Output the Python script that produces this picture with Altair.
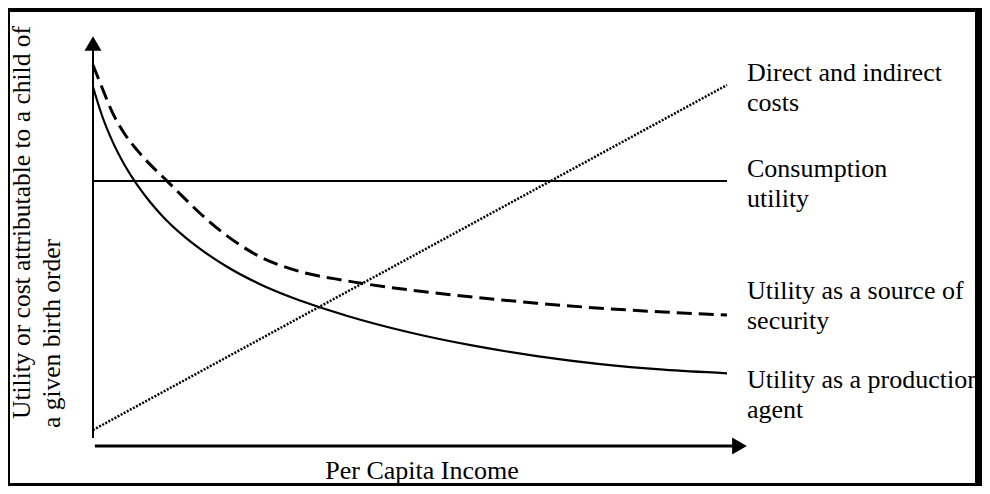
import altair as alt
import pandas as pd

# ---------------- data (conceptual units) ----------------
income = [0, 1.5, 3, 5, 7, 9, 11, 14, 17, 21, 26, 32, 40, 50, 60, 70, 80, 90, 100]
production_utility = [89.75, 82.25, 76.4, 70.2, 65.2, 61.0, 57.4, 52.9, 49.15, 44.95,
                      40.7, 36.74, 32.58, 28.38, 25.08, 22.48, 20.48, 19.08, 18.18]
security_utility = [95.25, 89.3, 83.6, 78.0, 73.9, 70.4, 67.3, 62.6, 58.0, 52.7,
                    47.6, 43.9, 41.3, 39.0, 37.2, 35.7, 34.45, 33.5, 32.75]
line_income = [0, 100]
direct_costs = [4.0, 90.25]
consumption_utility = [66.25, 66.25]

label_costs = ["Direct and indirect", "costs"]
label_consumption = ["Consumption", "utility"]
label_security = ["Utility as a source of", "security"]
label_production = ["Utility as a production", "agent"]
x_title = "Per Capita Income"
y_title_1 = "Utility or cost attributable to a child of"
y_title_2 = "a given birth order"

# ---------------- tables ----------------
curves = pd.DataFrame({
    "income": income * 2,
    "value": production_utility + security_utility,
    "series": ["production"] * len(income) + ["security"] * len(income),
})
straight = pd.DataFrame({
    "income": line_income * 2,
    "value": direct_costs + consumption_utility,
    "series": ["costs"] * 2 + ["consumption"] * 2,
})

W, H = 974, 478
FONT = "Liberation Serif"
xs = alt.Scale(domain=[-85 / 6.34, (W - 85) / 6.34], nice=False, zero=False)
ys = alt.Scale(domain=[(438 - H) / 4, 438 / 4], nice=False, zero=False)
one = alt.Data(values=[{}])


def X(field):
    return alt.X(field, type="quantitative", scale=xs, axis=None)


def Y(field):
    return alt.Y(field, type="quantitative", scale=ys, axis=None)


production = alt.Chart(curves).transform_filter(alt.datum.series == "production").mark_line(
    color="black", strokeWidth=2.2, interpolate="monotone"
).encode(x=X("income"), y=Y("value"), order="income:Q")

security = alt.Chart(curves).transform_filter(alt.datum.series == "security").mark_line(
    color="black", strokeWidth=3, strokeDash=[15, 7], interpolate="monotone"
).encode(x=X("income"), y=Y("value"), order="income:Q")

costs = alt.Chart(straight).transform_filter(alt.datum.series == "costs").mark_line(
    color="black", strokeWidth=2.5, strokeDash=[2, 1.5]
).encode(x=X("income"), y=Y("value"))

consumption = alt.Chart(straight).transform_filter(alt.datum.series == "consumption").mark_line(
    color="black", strokeWidth=2
).encode(x=X("income"), y=Y("value"))

# hand-drawn axes with arrow heads
y_axis = alt.Chart(one).mark_rule(color="black", strokeWidth=2).encode(
    x=alt.X(datum=0, type="quantitative", scale=xs, axis=None),
    y=alt.Y(datum=2.0, type="quantitative", scale=ys, axis=None),
    y2=alt.datum(99.0),
)
x_axis = alt.Chart(one).mark_rule(color="black", strokeWidth=3).encode(
    x=alt.X(datum=0.3, type="quantitative", scale=xs, axis=None),
    x2=alt.datum(101.0),
    y=alt.Y(datum=0, type="quantitative", scale=ys, axis=None),
)
y_arrow = alt.Chart(one).mark_point(
    shape="triangle-up", filled=True, size=289, color="black", opacity=1
).encode(
    x=alt.X(datum=0, type="quantitative", scale=xs, axis=None),
    y=alt.Y(datum=100.625, type="quantitative", scale=ys, axis=None),
)
x_arrow = alt.Chart(one).mark_point(
    shape="triangle-right", filled=True, size=289, color="black", opacity=1
).encode(
    x=alt.X(datum=101.97, type="quantitative", scale=xs, axis=None),
    y=alt.Y(datum=0, type="quantitative", scale=ys, axis=None),
)


def label(lines, y):
    return alt.Chart(one).mark_text(
        text=lines, font=FONT, fontSize=26, color="black", align="left",
        baseline="alphabetic", lineHeight=29.5
    ).encode(x=alt.value(739), y=alt.value(y))


labels = [
    label(label_costs, 73),
    label(label_consumption, 169),
    label(label_security, 291),
    label(label_production, 380),
]

x_title_mark = alt.Chart(one).mark_text(
    text=x_title, font=FONT, fontSize=26, color="black", align="center", baseline="alphabetic"
).encode(x=alt.value(414), y=alt.value(471))

y_title_a = alt.Chart(one).mark_text(
    text=y_title_1, font=FONT, fontSize=25.5, color="black", align="left",
    baseline="alphabetic", angle=270
).encode(x=alt.value(22), y=alt.value(411))
y_title_b = alt.Chart(one).mark_text(
    text=y_title_2, font=FONT, fontSize=25.5, color="black", align="left",
    baseline="alphabetic", angle=270
).encode(x=alt.value(52), y=alt.value(420))


def frame(x1, x2, y1, y2):
    return alt.Chart(one).mark_rect(color="black").encode(
        x=alt.value(x1), x2=alt.value(x2), y=alt.value(y1), y2=alt.value(y2)
    )


frames = [
    frame(0, 2, 0, H),
    frame(0, W, 0, 4),
    frame(W - 7, W, 0, H),
    frame(0, W, H - 3, H),
]

chart = alt.layer(
    consumption, costs, security, production, y_axis, x_axis, y_arrow, x_arrow,
    *labels, x_title_mark, y_title_a, y_title_b, *frames
).properties(
    width=W, height=H, autosize=alt.AutoSizeParams(type="none"), padding=0,
    background="white"
).configure_view(stroke=None)

chart.save("out.html", embed_options={"renderer": "svg", "actions": False})
